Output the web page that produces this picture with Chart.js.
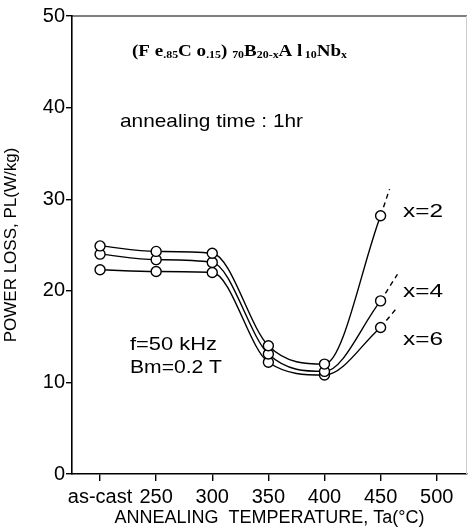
<!DOCTYPE html>
<html><head><meta charset="utf-8">
<script src="https://cdn.jsdelivr.net/npm/chart.js@4/dist/chart.umd.min.js"></script>
<style>html,body{margin:0;padding:0;background:#fff;}canvas{display:block;}</style>
</head><body>
<canvas id="c" width="468" height="529"></canvas>
<script>
// ---- data ----
const temperatures = [200, 250, 300, 350, 400, 450];   // 200 = "as-cast"
const tickValues   = [200, 250, 300, 350, 400, 450, 500];
const tickLabels   = ['as-cast', '250', '300', '350', '400', '450', '500'];
const seriesNames  = ['x=2', 'x=4', 'x=6'];
const lossX2 = [24.9, 24.3, 24.1, 14.0, 12.0, 28.2];
const lossX4 = [24.0, 23.4, 23.1, 13.1, 11.2, 18.9];
const lossX6 = [22.3, 22.1, 22.0, 12.2, 10.8, 16.0];
// dashed extrapolations beyond 450 C
const extTempX2 = [450, 458], extLossX2 = [28.2, 31.1];
const extTempX4 = [450, 465], extLossX4 = [18.9, 21.8];
const extTempX6 = [450, 465], extLossX6 = [16.0, 18.2];
// label anchors (data coords)
const labelTemp = 470;
const labelLoss = [28.6, 19.9, 14.6];

const SANS = "'Liberation Sans', Arial, Helvetica, sans-serif";
const SERIF = "'Liberation Serif', 'Times New Roman', serif";

const toXY = (xs, ys) => xs.map((x, i) => ({x, y: ys[i]}));
const series = [lossX2, lossX4, lossX6];
const exts = [[extTempX2, extLossX2], [extTempX4, extLossX4], [extTempX6, extLossX6]];

const datasets = [];
series.forEach((s, i) => {
  datasets.push({
    label: seriesNames[i] + ' line', data: toXY(temperatures, s),
    borderColor: '#000', borderWidth: 1.4, pointRadius: 0, fill: false,
    cubicInterpolationMode: 'monotone', order: 3
  });
  datasets.push({
    label: seriesNames[i] + ' ext', data: toXY(exts[i][0], exts[i][1]),
    borderColor: '#000', borderWidth: 1.4, borderDash: [5, 4], pointRadius: 0, fill: false, order: 3
  });
  datasets.push({
    label: seriesNames[i], data: toXY(temperatures, s), showLine: false,
    pointRadius: 5, pointBorderWidth: 1.4, pointBackgroundColor: '#fff', pointBorderColor: '#000', order: 1
  });
});

function fitText(ctx, text, x, y, font, width) {
  ctx.save();
  ctx.font = font;
  const w = ctx.measureText(text).width;
  const s = width ? width / w : 1;
  ctx.translate(x, y);
  ctx.scale(s, 1);
  ctx.textBaseline = 'middle';
  ctx.textAlign = 'left';
  ctx.fillStyle = '#000';
  ctx.fillText(text, 0, 0);
  ctx.restore();
}

const textPlugin = {
  id: 'texts',
  afterDraw(chart) {
    const ctx = chart.ctx, a = chart.chartArea;
    const xs = chart.scales.x, ys = chart.scales.y;
    // frame top and right
    ctx.save();
    ctx.strokeStyle = '#000'; ctx.lineWidth = 1.2;
    ctx.beginPath(); ctx.moveTo(a.left, a.top); ctx.lineTo(a.right, a.top); ctx.stroke();
    ctx.strokeStyle = '#ccc'; ctx.lineWidth = 1;
    ctx.beginPath(); ctx.moveTo(a.right - 0.5, a.top); ctx.lineTo(a.right - 0.5, a.bottom); ctx.stroke();
    ctx.restore();

    // formula
    const pieces = [
      ['(F e', 16, 0], ['.85', 10, 2], ['C o', 16, 0], ['.15', 10, 2], [')', 16, 0], [' ', 16, 0],
      ['70', 10, 2], ['B', 16, 0], ['20-x', 10, 2], ['A l', 16, 0], [' ', 8, 0], ['10', 10, 2], ['Nb', 16, 0], ['x', 10, 2]
    ];
    ctx.save();
    let total = 0;
    pieces.forEach(p => { ctx.font = 'bold ' + p[1] + 'px ' + SERIF; total += ctx.measureText(p[0]).width; });
    const sc = 215 / total;
    ctx.translate(a.left + 60, a.top + 34);
    ctx.scale(sc, 1);
    ctx.textBaseline = 'alphabetic'; ctx.fillStyle = '#000';
    let cx = 0;
    pieces.forEach(p => {
      ctx.font = 'bold ' + p[1] + 'px ' + SERIF;
      ctx.fillText(p[0], cx, 6 + p[2]);
      cx += ctx.measureText(p[0]).width;
    });
    ctx.restore();

    fitText(ctx, 'annealing time : 1hr', a.left + 48, a.top + 106, '19px ' + SANS, 183);
    fitText(ctx, 'f=50 kHz', a.left + 58, a.top + 329, '19px ' + SANS, 87);
    fitText(ctx, 'Bm=0.2 T', a.left + 58, a.top + 352, '19px ' + SANS, 92);
    seriesNames.forEach((n, i) => {
      fitText(ctx, n, xs.getPixelForValue(labelTemp), ys.getPixelForValue(labelLoss[i]), '19px ' + SANS, 40);
    });
  }
};

new Chart(document.getElementById('c'), {
  type: 'line',
  data: { datasets },
  options: {
    responsive: false, animation: false,
    layout: { autoPadding: false, padding: { left: 0, top: 16, right: 1, bottom: 0 } },
    plugins: { legend: { display: false }, tooltip: { enabled: false } },
    scales: {
      x: {
        type: 'linear', min: 175, max: 527,
        afterBuildTicks: s => { s.ticks = tickValues.map(v => ({ value: v })); },
        afterFit: s => { s.height = 55; s.paddingLeft = 0; s.paddingRight = 0; },
        ticks: {
          color: '#000', font: { family: SANS, size: 20 }, padding: 4, maxRotation: 0, autoSkip: false,
          callback: v => { const i = tickValues.indexOf(v); return i >= 0 ? tickLabels[i] : ''; }
        },
        grid: { display: true, drawOnChartArea: false, drawTicks: true, tickLength: 7, color: '#000', lineWidth: 1.4 },
        border: { display: true, color: '#000', width: 1.6 },
        title: { display: true, text: 'ANNEALING  TEMPERATURE, Ta(\u00B0C)', color: '#000',
                 font: { family: SANS, size: 18 }, padding: { top: 0, bottom: 0 } }
      },
      y: {
        min: 0, max: 50,
        afterFit: s => { s.width = 72; s.paddingTop = 0; s.paddingBottom = 0; },
        ticks: { stepSize: 10, color: '#000', font: { family: SANS, size: 20 }, padding: 1 },
        grid: { display: true, drawOnChartArea: false, drawTicks: true, tickLength: 6, color: '#000', lineWidth: 1.4 },
        border: { display: true, color: '#000', width: 1.6 },
        title: { display: true, text: 'POWER LOSS, PL(W/kg)', color: '#000',
                 font: { family: SANS, size: 17 }, padding: { top: 1, bottom: 0 } }
      }
    }
  },
  plugins: [textPlugin]
});
</script>
</body></html>
